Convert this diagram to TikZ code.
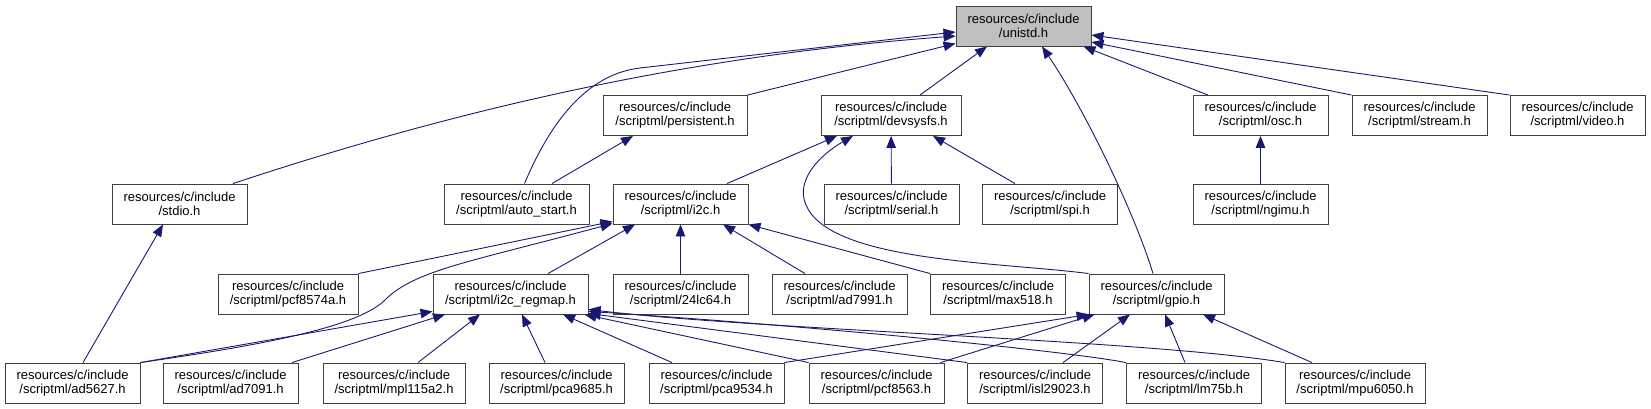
\documentclass[tikz,border=0pt]{standalone}
\usepackage{fontspec}
\setmainfont{Liberation Sans}
\usetikzlibrary{arrows.meta}
\definecolor{navy}{RGB}{25,25,112}
\definecolor{hdrgray}{RGB}{191,191,191}

\begin{document}
\begin{tikzpicture}[
  x=1pt, y=-1pt,
  file/.style={draw=black!75, line width=0.9pt, fill=white, minimum width=135pt, minimum height=40pt, inner xsep=8pt, inner ysep=0pt, align=center, font=\fontsize{13}{14}\selectfont},
  current/.style={file, fill=hdrgray},
  dep/.style={-{Triangle[length=12pt,width=9.5pt]}, draw=navy, line width=0.9pt}
]
\useasboundingbox (0,0) rectangle (1651,409);
% header being included
\node[current] (unistd) at (1023.5,26) {resources/c/include\\/unistd.h};
% direct includers
\node[file, minimum width=144pt] (persistent) at (675,115.5) {resources/c/include\\/scriptml/persistent.h};
\node[file, minimum width=140pt] (devsysfs) at (891,115.5) {resources/c/include\\/scriptml/devsysfs.h};
\node[file] (osc) at (1260.5,115.5) {resources/c/include\\/scriptml/osc.h};
\node[file] (stream) at (1419.5,115.5) {resources/c/include\\/scriptml/stream.h};
\node[file] (video) at (1577.5,115.5) {resources/c/include\\/scriptml/video.h};
\node[file] (stdio) at (179.5,204) {resources/c/include\\/stdio.h};
\node[file, minimum width=145pt] (autostart) at (516.5,204) {resources/c/include\\/scriptml/auto\_start.h};
\node[file] (i2c) at (680.5,204) {resources/c/include\\/scriptml/i2c.h};
\node[file] (serial) at (891.5,204) {resources/c/include\\/scriptml/serial.h};
\node[file] (spi) at (1050,204) {resources/c/include\\/scriptml/spi.h};
\node[file] (ngimu) at (1260.5,204) {resources/c/include\\/scriptml/ngimu.h};
\node[file, minimum width=140pt] (pcf8574a) at (288,294) {resources/c/include\\/scriptml/pcf8574a.h};
\node[file, minimum width=155pt] (regmap) at (510.5,294) {resources/c/include\\/scriptml/i2c\_regmap.h};
\node[file] (lc64) at (680.5,294) {resources/c/include\\/scriptml/24lc64.h};
\node[file] (ad7991) at (839.5,294) {resources/c/include\\/scriptml/ad7991.h};
\node[file] (max518) at (998,294) {resources/c/include\\/scriptml/max518.h};
\node[file] (gpio) at (1156.5,294) {resources/c/include\\/scriptml/gpio.h};
% device drivers
\node[file] (ad5627) at (72.5,383) {resources/c/include\\/scriptml/ad5627.h};
\node[file] (ad7091) at (230.5,383) {resources/c/include\\/scriptml/ad7091.h};
\node[file, minimum width=142pt] (mpl115a2) at (394,383) {resources/c/include\\/scriptml/mpl115a2.h};
\node[file] (pca9685) at (556.5,383) {resources/c/include\\/scriptml/pca9685.h};
\node[file] (pca9534) at (716.5,383) {resources/c/include\\/scriptml/pca9534.h};
\node[file] (pcf8563) at (876.5,383) {resources/c/include\\/scriptml/pcf8563.h};
\node[file] (isl29023) at (1035,383) {resources/c/include\\/scriptml/isl29023.h};
\node[file] (lm75b) at (1194,383) {resources/c/include\\/scriptml/lm75b.h};
\node[file, minimum width=140pt] (mpu6050) at (1355,383) {resources/c/include\\/scriptml/mpu6050.h};
% into unistd.h
\draw[dep] ([xshift=53.5pt]stdio.north) .. controls (470,105) and (700,55) .. ([yshift=-10pt]unistd.west);
\draw[dep] ([xshift=8pt]autostart.north) .. controls (545,135) and (580,75) .. (640,68) -- ([yshift=-6pt]unistd.west);
\draw[dep] (persistent.north east) -- ([yshift=3pt]unistd.south west);
\draw[dep] ([xshift=29pt]devsysfs.north) -- ([xshift=-36.5pt]unistd.south);
\draw[dep] ([xshift=-3.5pt]gpio.north) .. controls (1135,214) and (1085,110) .. ([xshift=18.5pt]unistd.south);
\draw[dep] ([xshift=-52.5pt]osc.north) -- ([xshift=-8pt]unistd.south east);
\draw[dep] (stream.north west) -- ([yshift=-16pt]unistd.east);
\draw[dep] (video.north west) -- ([yshift=-9pt]unistd.east);
% second level
\draw[dep] ([xshift=35.5pt]autostart.north) -- ([xshift=-42pt]persistent.south);
\draw[dep] ([xshift=46.5pt]i2c.north) -- ([xshift=-54pt]devsysfs.south);
\draw[dep] (gpio.north west) .. controls (1000,262) and (830,262) .. (806,205) .. controls (795,180) and (820,155) .. ([xshift=-38pt]devsysfs.south);
\draw[dep] (serial) -- (devsysfs);
\draw[dep] ([xshift=-35pt]spi.north) -- ([xshift=42pt]devsysfs.south);
\draw[dep] (ngimu) -- (osc);
\draw[dep] ([xshift=10.5pt]ad5627.north) -- ([xshift=-16.5pt]stdio.south);
% into i2c.h
\draw[dep] (ad5627.north east) .. controls (240,348) and (355,330) .. (385,300) .. controls (415,270) and (470,262) .. ([yshift=1pt]i2c.south west);
\draw[dep] (pcf8574a.north east) -- ([yshift=3pt]i2c.south west);
\draw[dep] ([xshift=37.5pt]regmap.north) -- ([xshift=-45.5pt]i2c.south);
\draw[dep] (lc64) -- (i2c);
\draw[dep] ([xshift=-34.5pt]ad7991.north) -- ([xshift=42.5pt]i2c.south);
\draw[dep] (max518.north west) -- (i2c.south east);
% into i2c_regmap.h
\draw[dep] (ad5627.north east) -- ([yshift=3pt]regmap.south west);
\draw[dep] ([xshift=61.5pt]ad7091.north) -- ([xshift=-65.5pt]regmap.south);
\draw[dep] ([xshift=24pt]mpl115a2.north) -- ([xshift=-30.5pt]regmap.south);
\draw[dep] ([xshift=-11.5pt]pca9685.north) -- ([xshift=11.5pt]regmap.south);
\draw[dep] ([xshift=-44.5pt]pca9534.north) -- ([xshift=52.5pt]regmap.south);
\draw[dep] (pcf8563.north west) -- ([xshift=-4pt]regmap.south east);
\draw[dep] (isl29023.north west) -- ([yshift=1pt]regmap.south east);
\draw[dep] (lm75b.north west) .. controls (1060,350) and (800,325) .. ([yshift=3pt]regmap.south east);
\draw[dep] (mpu6050.north west) .. controls (1150,340) and (760,330) .. ([yshift=5pt]regmap.south east);
% into gpio.h
\draw[dep] (pca9534.north east) -- (gpio.south west);
\draw[dep] ([xshift=-4pt]pcf8563.north east) -- ([xshift=6pt]gpio.south west);
\draw[dep] ([xshift=28pt]isl29023.north) -- ([xshift=-26.5pt]gpio.south);
\draw[dep] ([xshift=-9pt]lm75b.north) -- ([xshift=8.5pt]gpio.south);
\draw[dep] ([xshift=-43pt]mpu6050.north) -- ([xshift=46.5pt]gpio.south);
\end{tikzpicture}
\end{document}
